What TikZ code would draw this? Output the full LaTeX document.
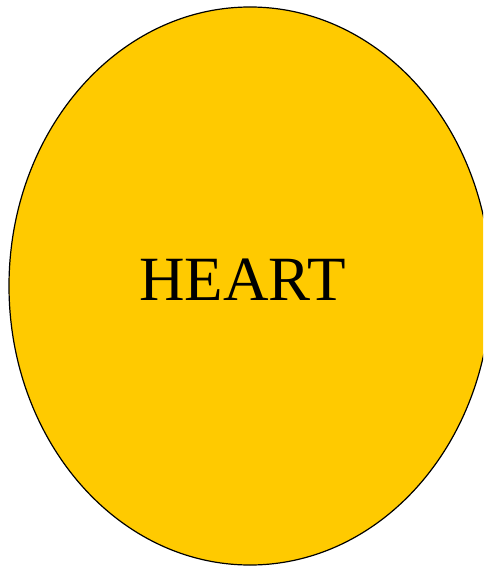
\documentclass[tikz,border=0pt]{standalone}
\usepackage{fontspec}
\setmainfont{Liberation Serif}
\usepackage{tikz}
\usetikzlibrary{shapes.geometric}
\definecolor{heartgold}{HTML}{FFCA00}

\begin{document}
\begin{tikzpicture}[x=1pt, y=1pt]
  % canvas
  \useasboundingbox (0,0) rectangle (483,-569);
  \clip (0,0) rectangle (483,-569);

  % Heart ellipse
  \node[ellipse, draw=black, line width=1.2pt, fill=heartgold,
        minimum width=482pt, minimum height=558pt, inner sep=0pt] (heart) at (250,-286) {};

  % Label
  \node[font=\fontsize{63}{70}\selectfont, inner sep=0pt] (label) at (242.5,-280) {HEART};
\end{tikzpicture}
\end{document}
